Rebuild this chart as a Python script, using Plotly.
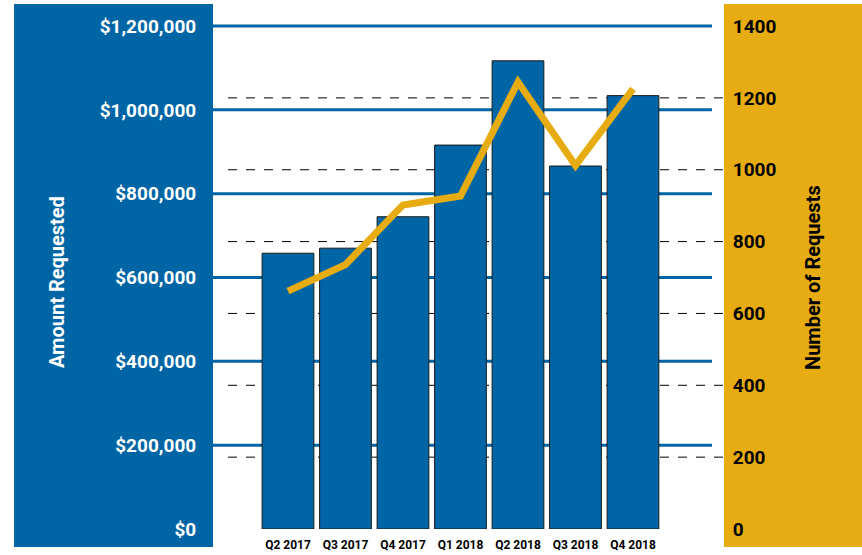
import plotly.graph_objects as go

# data
quarters = ['Q2 2017', 'Q3 2017', 'Q4 2017', 'Q1 2018', 'Q2 2018', 'Q3 2018', 'Q4 2018']
amount_requested = [658000, 670000, 745000, 916000, 1117000, 866000, 1034000]
num_requests = [662, 736, 902, 927, 1244, 1012, 1225]
amount_ticks = [0, 200000, 400000, 600000, 800000, 1000000, 1200000]
amount_labels = ['$0', '$200,000', '$400,000', '$600,000', '$800,000', '$1,000,000', '$1,200,000']
count_ticks = [0, 200, 400, 600, 800, 1000, 1200, 1400]

BLUE = '#0065a5'
GOLD = '#e6ac11'
FONT = 'Roboto'

fig = go.Figure()

# bars: amount requested (left axis)
fig.add_trace(go.Bar(
    x=quarters,
    y=amount_requested,
    marker=dict(color=BLUE, line=dict(color='#1a1a1a', width=1)),
    width=0.9,
    yaxis='y',
    showlegend=False,
))

# line: number of requests (right axis)
fig.add_trace(go.Scatter(
    x=quarters,
    y=num_requests,
    mode='lines',
    line=dict(color=GOLD, width=7),
    yaxis='y2',
    showlegend=False,
))

shapes = []
# coloured side panels behind the axis labels
shapes.append(dict(type='rect', xref='paper', yref='paper', x0=-0.3894, x1=0,
                   y0=-0.0354, y1=1.0335, fillcolor=BLUE, line_width=0, layer='below'))
shapes.append(dict(type='rect', xref='paper', yref='paper', x0=1, x1=1.3,
                   y0=-0.0354, y1=1.0335, fillcolor=GOLD, line_width=0, layer='below'))

# solid blue gridlines for the amount axis
for v in amount_ticks[1:]:
    shapes.append(dict(type='line', xref='paper', yref='y', x0=0, x1=0.9765, y0=v, y1=v,
                       line=dict(color=BLUE, width=3), layer='below'))
# dashed black gridlines for the count axis
for v in count_ticks[1:-1]:
    shapes.append(dict(type='line', xref='paper', yref='y2', x0=0.0294, x1=1, y0=v, y1=v,
                       line=dict(color='black', width=1, dash='dash'), layer='below'))

fig.update_layout(
    width=862,
    height=555,
    margin=dict(l=213, r=138, t=21, b=26),
    paper_bgcolor='white',
    plot_bgcolor='white',
    bargap=0.1,
    shapes=shapes,
    xaxis=dict(
        range=[-1.304, 7.583],
        automargin=False,
        showgrid=False,
        zeroline=False,
        showline=False,
        ticks='outside',
        ticklen=5,
        tickcolor='rgba(0,0,0,0)',
        tickfont=dict(family=FONT, size=12, color='black', weight='bold'),
    ),
    yaxis=dict(
        range=[0, 1212000],
        tickvals=amount_ticks,
        ticktext=amount_labels,
        automargin=False,
        showgrid=False,
        zeroline=False,
        showline=False,
        ticks='outside',
        ticklen=12,
        tickcolor='rgba(0,0,0,0)',
        tickfont=dict(family=FONT, size=19, color='white', weight='bold'),
    ),
    yaxis2=dict(
        range=[0, 1414],
        tickvals=count_ticks,
        overlaying='y',
        side='right',
        automargin=False,
        showgrid=False,
        zeroline=False,
        showline=False,
        ticks='outside',
        ticklen=4,
        tickcolor='rgba(0,0,0,0)',
        tickfont=dict(family=FONT, size=19, color='black', weight='bold'),
    ),
    annotations=[
        dict(text='Amount Requested', xref='paper', yref='paper', x=-0.3053, y=0.4862,
             textangle=-90, showarrow=False, xanchor='center', yanchor='middle',
             font=dict(family=FONT, size=20, color='white', weight='bold')),
        dict(text='Number of Requests', xref='paper', yref='paper', x=1.174, y=0.496,
             textangle=-90, showarrow=False, xanchor='center', yanchor='middle',
             font=dict(family=FONT, size=20, color='black', weight='bold')),
    ],
)

# drop the browser's default page margin so the figure sits at the window origin
fig.write_html('out.html', config={'displayModeBar': False},
               post_script="document.body.style.margin='0';")
